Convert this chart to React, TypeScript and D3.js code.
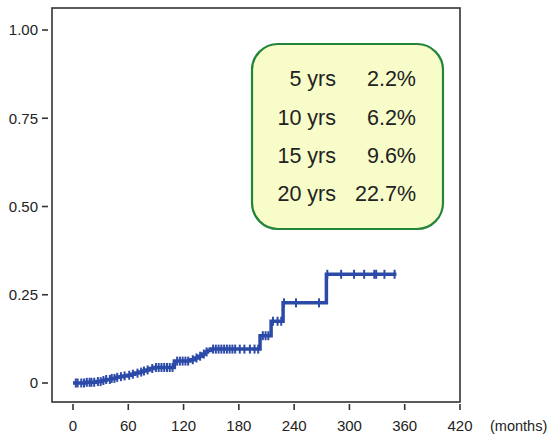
import React from "react";
import * as d3 from "d3";

// Cumulative incidence step function: value holds from each month until the next
const eventMonths = [0, 14, 26, 31, 36, 41, 46, 51, 55, 59, 63, 67, 71, 75, 79, 83, 87, 110, 127, 132, 136, 140, 143, 146, 149, 203, 215, 228, 275];
const cumulativeIncidence = [0.0, 0.002, 0.004, 0.007, 0.010, 0.013, 0.016, 0.018, 0.020, 0.022, 0.025, 0.028, 0.031, 0.034, 0.037, 0.041, 0.044, 0.062, 0.066, 0.071, 0.076, 0.082, 0.088, 0.092, 0.096, 0.134, 0.175, 0.227, 0.308];
const lastFollowUp = 351;

// Censored observations (months)
const censoredMonths = [3, 5, 9, 12, 15, 18, 20, 23, 27, 30, 33, 36, 40, 42, 45, 48, 52, 56, 61, 65, 70, 74, 77, 81, 86, 90, 93, 96, 99, 102, 105, 108, 113, 116, 119, 122, 125, 130, 134, 138, 142, 145, 152, 155, 158, 161, 164, 167, 170, 173, 176, 181, 186, 192, 197, 201, 206, 209, 212, 217, 222, 226, 229, 242, 267, 276, 291, 305, 316, 327, 329, 338, 349];

// Summary table
const summaryYears = ["5 yrs", "10 yrs", "15 yrs", "20 yrs"];
const summaryRates = ["2.2%", "6.2%", "9.6%", "22.7%"];

const xTicks = [0, 60, 120, 180, 240, 300, 360, 420];
const yTicks = [0, 0.25, 0.5, 0.75, 1];
const yTickLabels = ["0", "0.25", "0.50", "0.75", "1.00"];

const W = 552;
const H = 437;
const frame = { left: 52, right: 460, top: 8, bottom: 402 };
const lineColor = "#2c4aa8";
const textColor = "#222";
const font = "'Liberation Sans', Arial, sans-serif";

export default function App() {
  const x = d3.scaleLinear().domain([0, 420]).range([73, 460]);
  const y = d3.scaleLinear().domain([0, 1]).range([383, 30]);

  const stepPoints: [number, number][] = eventMonths.map((m, i) => [m, cumulativeIncidence[i]]);
  stepPoints.push([lastFollowUp, cumulativeIncidence[cumulativeIncidence.length - 1]]);

  const line = d3
    .line<[number, number]>()
    .x((d) => x(d[0]))
    .y((d) => y(d[1]))
    .curve(d3.curveStepAfter);

  const valueAt = (m: number) => {
    const i = d3.bisectRight(eventMonths, m) - 1;
    return cumulativeIncidence[Math.max(0, i)];
  };

  const box = { x: 252, y: 44, w: 191, h: 185, r: 26 };
  const rowBaselines = [86, 125, 163, 201];

  return (
    <svg width={W} height={H} style={{ position: "absolute", left: 0, top: 0, background: "#fff" }}>
      <rect
        x={frame.left}
        y={frame.top}
        width={frame.right - frame.left}
        height={frame.bottom - frame.top}
        fill="none"
        stroke="#333"
        strokeWidth={1.6}
      />

      {/* y axis */}
      {yTicks.map((t, i) => (
        <g key={"y" + t}>
          <line x1={42} x2={48} y1={y(t)} y2={y(t)} stroke="#333" strokeWidth={1.6} />
          <text
            x={38}
            y={y(t)}
            dy="0.35em"
            textAnchor="end"
            fontFamily={font}
            fontSize={15}
            fill={textColor}
          >
            {yTickLabels[i]}
          </text>
        </g>
      ))}

      {/* x axis */}
      {xTicks.map((t) => (
        <g key={"x" + t}>
          <line x1={x(t)} x2={x(t)} y1={404} y2={410} stroke="#333" strokeWidth={1.6} />
          <text
            x={x(t)}
            y={426}
            dy="0.35em"
            textAnchor="middle"
            fontFamily={font}
            fontSize={15}
            fill={textColor}
          >
            {t}
          </text>
        </g>
      ))}
      <text x={490} y={426} dy="0.35em" fontFamily={font} fontSize={14.5} fill={textColor}>
        (months)
      </text>

      {/* curve */}
      <path d={line(stepPoints) ?? ""} fill="none" stroke={lineColor} strokeWidth={3.5} />
      {censoredMonths.map((m, i) => (
        <line
          key={"c" + i}
          x1={x(m)}
          x2={x(m)}
          y1={y(valueAt(m)) - 4.5}
          y2={y(valueAt(m)) + 4.5}
          stroke={lineColor}
          strokeWidth={2}
        />
      ))}

      {/* summary box */}
      <rect
        x={box.x}
        y={box.y}
        width={box.w}
        height={box.h}
        rx={box.r}
        ry={box.r}
        fill="#f7fcc9"
        stroke="#22853a"
        strokeWidth={2.2}
      />
      {summaryYears.map((label, i) => (
        <g key={label}>
          <text x={336} y={rowBaselines[i]} textAnchor="end" fontFamily={font} fontSize={21.5} fill={textColor}>
            {label}
          </text>
          <text x={416} y={rowBaselines[i]} textAnchor="end" fontFamily={font} fontSize={21.5} fill={textColor}>
            {summaryRates[i]}
          </text>
        </g>
      ))}
    </svg>
  );
}
